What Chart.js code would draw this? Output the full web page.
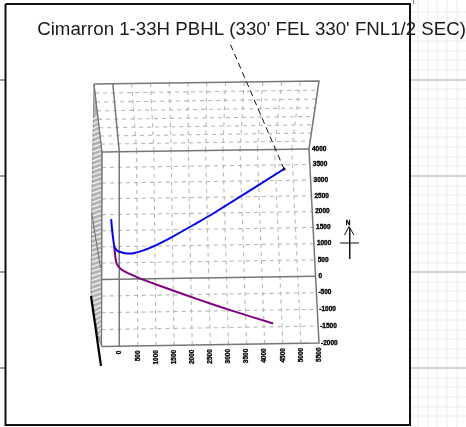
<!DOCTYPE html>
<html><head><meta charset="utf-8">
<style>html,body{margin:0;padding:0;background:#fff}canvas{display:block}</style>
<script src="https://cdn.jsdelivr.net/npm/chart.js@4"></script></head>
<body><canvas id="c" width="466" height="427"></canvas>
<script>
const titleText = "Cimarron 1-33H PBHL (330' FEL 330' FNL1/2 SEC)";
const eastTicks = [0,500,1000,1500,2000,2500,3000,3500,4000,4500,5000,5500];
const northTicks = [-2000,-1500,-1000,-500,0,500,1000,1500,2000,2500,3000,3500,4000];
const depthLevels = [0,1000,2000,3000,4000,5000,6000,7000,8000];
const blueEast = [-235,-197,-141,-80,-28,160,395,677,1055,1523,2097,2672,4750];
const blueNorth = [1860,1415,1000,895,850,795,790,870,1035,1290,1635,1985,3365];
const purpleEast = [-150,-92,-30,68,487,1044,2248,3121,4256];
const purpleNorth = [1000,515,390,282,55,-185,-670,-1000,-1400];
const dashedEast = [3320,4750];
const dashedNorth = [7520,3365];

// rectangle -> projected quad
function homography(x0,x1,y0,y1,q){ // q: [x0y0, x1y0, x1y1, x0y1]
  const [a,b,c,d]=q;
  const dx1=b[0]-c[0],dx2=d[0]-c[0],dy1=b[1]-c[1],dy2=d[1]-c[1];
  const sx=a[0]-b[0]+c[0]-d[0],sy=a[1]-b[1]+c[1]-d[1];
  const den=dx1*dy2-dx2*dy1;
  const g=(sx*dy2-dx2*sy)/den,h=(dx1*sy-sx*dy1)/den;
  return (u,v)=>{
    const s=(u-x0)/(x1-x0),t=(v-y0)/(y1-y0);
    const w=g*s+h*t+1;
    return {x:((b[0]-a[0]+g*b[0])*s+(d[0]-a[0]+h*d[0])*t+a[0])/w,
            y:((b[1]-a[1]+g*b[1])*s+(d[1]-a[1]+h*d[1])*t+a[1])/w};
  };
}
const EMIN=-500,EMAX=5500,NMIN=-2000,NMAX=4000,DMAX=8000;
const front=homography(EMIN,EMAX,NMIN,NMAX,[[101.5,346.5],[319,343],[309,149],[102,152]]);
const back=homography(EMIN,EMAX,0,DMAX,[[102,152],[309,149],[319,81],[94,84]]);

const datasets=[];let ord=1000;
function line(points,color,width,extra){
  datasets.push(Object.assign({data:points,borderColor:color,borderWidth:width,pointRadius:0,
    showLine:true,clip:false,fill:false,tension:0,order:ord--},extra||{}));
}
const frameBg='#f3f3f3', stub='#a6a6a6', gridC='#b8b8b8', gridDash=[4,4];
// page backdrop
[418,428,437,447,457].forEach(x=>line([{x,y:0},{x,y:427}],frameBg,1.5));
[12,22,31,41,51,60,70,89,99,108,118,128,137,147,157,166,186,195,205,214,224,234,243,253,263,282,291,301,311,320,330,339,349,358,378,387,397,407,416]
  .forEach(y=>line([{x:411,y},{x:466,y}],frameBg,1.5));
[80,176,272,368].forEach(y=>{
  line([{x:411,y},{x:466,y}],stub,1);
  line([{x:0,y},{x:5,y}],'#444',1);
});
line([{x:413.5,y:0},{x:413.5,y:4}],'#888',1);
// frame
line([{x:5.5,y:4},{x:410,y:4},{x:410,y:425},{x:5.5,y:425},{x:5.5,y:4}],'#111',2);

// hatched side wall
line([{x:94,y:84},{x:102,y:152},{x:101.5,y:346},{x:99,y:340},{x:91,y:293},{x:92,y:200},{x:94,y:84}],'#8c8c8c',1,
  {fill:'shape',backgroundColor:'#b4b4b4'});
for(let y=118;y<336;y+=4.6){
  const l=y<293?92.5+(y-118)*-0.006:91+(y-293)*0.19, r=y<152?94+(y-84)*0.117:101;
  line([{x:l,y:y+1.6},{x:r,y:y-1.6}],'#f2f2f2',1.4);
}
line([{x:91.7,y:213},{x:100.5,y:268}],'#6e6e6e',1);
line([{x:91,y:296},{x:101,y:366}],'#000',2.2);

// back plane
depthLevels.slice(1,-1).forEach(d=>line([back(EMIN,d),back(EMAX,d)],gridC,1.1,{borderDash:gridDash}));
eastTicks.slice(1).forEach(e=>line([back(e,0),back(e,DMAX)],gridC,1.1,{borderDash:gridDash}));
// front plane
northTicks.filter(n=>n!==0&&n!==NMIN&&n!==NMAX).forEach(n=>line([front(EMIN,n),front(EMAX,n)],gridC,1.1,{borderDash:gridDash}));
eastTicks.slice(1,-1).forEach(e=>line([front(e,NMIN),front(e,NMAX)],gridC,1.1,{borderDash:gridDash}));
// solid axes
const axisC='#767676';
line([front(EMIN,NMIN),front(EMAX,NMIN),front(EMAX,NMAX),back(EMAX,DMAX),back(EMIN,DMAX)],axisC,1.5);
line([front(EMIN,NMAX),front(EMAX,NMAX)],axisC,1.5);
line([front(EMIN,0),front(EMAX,0)],axisC,1.5);
line([front(0,NMIN),front(0,NMAX),back(0,DMAX)],axisC,1.5);
line([front(EMIN,NMIN),front(EMIN,NMAX),back(EMIN,DMAX)],axisC,1.2);

// well paths
const toPts=(es,ns)=>es.map((e,i)=>front(e,ns[i]));
line(toPts(dashedEast,dashedNorth),'#111',1,{borderDash:[6,4]});
line(toPts(purpleEast,purpleNorth),'#800080',2,{tension:0.25});
line(toPts(blueEast,blueNorth),'#0000ff',2,{tension:0.25});
const end=front(blueEast[blueEast.length-1],blueNorth[blueNorth.length-1]);
datasets.push({data:[end],pointRadius:1.6,pointBackgroundColor:'#111',pointBorderWidth:0,showLine:false,clip:false,order:0});

// north arrow
line([{x:349.7,y:228},{x:349.7,y:259}],'#111',1);
line([{x:340,y:243},{x:359,y:243}],'#111',1);
line([{x:344.5,y:235},{x:349,y:226.5},{x:354,y:235}],'#111',1);

const textPlugin={id:'texts',afterDatasetsDraw(ch){
  const {ctx,scales:{x,y}}=ch;ctx.save();ctx.fillStyle='#000';ctx.strokeStyle='#000';ctx.lineWidth=0.35;
  ctx.font='bold 6.5px "Liberation Sans"';ctx.textBaseline='middle';ctx.textAlign='left';
  const put=(s,px,py)=>{ctx.fillText(s,px,py);ctx.strokeText(s,px,py);};
  northTicks.forEach(n=>{const p=front(EMAX,n);
    put(String(n),x.getPixelForValue(p.x)+(n<0?2:3),y.getPixelForValue(p.y));});
  eastTicks.forEach(e=>{const p=front(e,NMIN);
    ctx.save();ctx.translate(x.getPixelForValue(p.x),y.getPixelForValue(p.y)+4.5);
    ctx.rotate(-Math.PI/2);ctx.textAlign='right';put(String(e),0,0);ctx.restore();});
  ctx.textAlign='center';put('N',x.getPixelForValue(348),y.getPixelForValue(223));
  ctx.restore();
}};

const chart=new Chart(document.getElementById('c'),{type:'scatter',data:{datasets},plugins:[textPlugin],options:{
  responsive:false,animation:false,layout:{padding:0,autoPadding:false},
  plugins:{legend:{display:false},tooltip:{enabled:false},
    title:{display:true,text:titleText,align:'end',color:'#1a1a1a',
      font:{family:'"Liberation Sans"',size:18.7,weight:'normal',lineHeight:1.2},padding:{top:18.8,bottom:0}}},
  scales:{
    x:{type:'linear',display:false,min:0,max:466},
    y:{type:'linear',display:false,min:41.24,max:427,reverse:true}
  }}});
// draw the title above the datasets, as in the reference
const tb=chart.titleBlock;
tb._layers=()=>[{z:1,draw(a){tb.draw(a);}}];
chart.update();
</script></body></html>
